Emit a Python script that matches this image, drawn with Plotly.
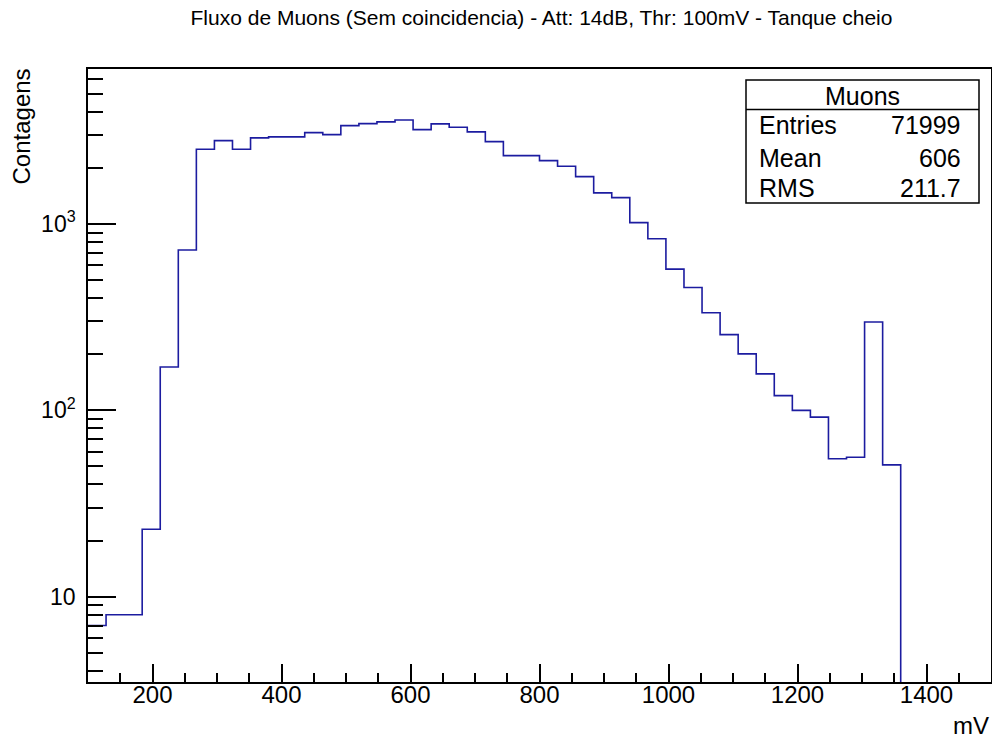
import numpy as np
import plotly.graph_objects as go

# ---- data -------------------------------------------------------------
x_min, x_max, n_bins = 100, 1500, 50
counts = [7, 8, 8, 23, 171, 726, 2521, 2803, 2521, 2899,
          2935, 2935, 3095, 3020, 3375, 3459, 3532, 3615, 3212, 3446,
          3308, 3122, 2769, 2329, 2329, 2189, 2043, 1797, 1469, 1386,
          1017, 834, 573, 456, 334, 255, 201, 157, 120, 100,
          92, 55, 56, 298, 51, 0, 0, 0, 0, 0]
y_tickvals = [10, 100, 1000]
y_ticktext = ["10", "10<sup>2</sup>", "10<sup>3</sup>"]
stats_name = "Muons"
stats_labels = ["Entries", "Mean", "RMS"]
stats_values = ["71999", "606", "211.7"]
title = "Fluxo de Muons (Sem coincidencia) - Att: 14dB, Thr: 100mV - Tanque cheio"

# ---- layout geometry --------------------------------------------------
W, H = 992, 738
ML, MR, MT, MB = 88, 1, 69, 56
PW, PH = W - ML - MR, H - MT - MB


def px(xp):
    return (xp - ML) / PW


def py(yp):
    return (H - MB - yp) / PH


edges = np.linspace(x_min, x_max, n_bins + 1)
yvals = [c if c > 0 else 1e-3 for c in counts]
ystep = yvals + [yvals[-1]]

FONT = "Liberation Sans, Arial, sans-serif"

fig = go.Figure()
fig.add_trace(go.Scatter(
    x=edges, y=ystep, mode="lines", line_shape="hv",
    line=dict(color="#1c1ca0", width=1.6), showlegend=False,
    hoverinfo="skip"))

minor_y = [m * 10 ** e for e in range(0, 4) for m in range(2, 10)]

fig.update_layout(
    width=W, height=H,
    margin=dict(l=ML, r=MR, t=MT, b=MB, autoexpand=False),
    paper_bgcolor="white", plot_bgcolor="white",
    font=dict(family=FONT, color="black"),
    title=dict(text=title, xref="container", x=541.5 / W, xanchor="center",
               yref="container", y=1 - 17.5 / H, yanchor="middle",
               font=dict(size=21, family=FONT)),
    xaxis=dict(range=[x_min, x_max], showgrid=False, zeroline=False,
               automargin=False,
               showline=True, linecolor="black", linewidth=1.5, mirror=True,
               ticks="inside", ticklen=18, tickwidth=1.5, tickcolor="black",
               tick0=0, dtick=200, tickfont=dict(size=24, family=FONT),
               ticklabelstandoff=-10,
               minor=dict(ticks="inside", ticklen=9, tickwidth=1.5,
                          tickcolor="black", dtick=50, tick0=0, showgrid=False)),
    yaxis=dict(type="log", range=[0.542, 3.832], showgrid=False,
               zeroline=False, showline=True, linecolor="black",
               automargin=False,
               linewidth=1.5, mirror=True,
               ticks="inside", ticklen=28, tickwidth=1.5, tickcolor="black",
               tickmode="array", tickvals=y_tickvals, ticktext=y_ticktext,
               tickfont=dict(size=23, family=FONT), ticklabelstandoff=6,
               minor=dict(ticks="inside", ticklen=15, tickwidth=1.5,
                          tickcolor="black", tickmode="array",
                          tickvals=minor_y, showgrid=False)),
)

# axis titles
fig.add_annotation(text="Contagens", textangle=-90, xref="paper", yref="paper",
                   x=px(37), y=py(67), xanchor="right", yanchor="top",
                   showarrow=False, font=dict(size=24, family=FONT))
fig.add_annotation(text="mV", xref="paper", yref="paper",
                   x=px(991), y=py(725), xanchor="right", yanchor="middle",
                   showarrow=False, font=dict(size=24, family=FONT))

# stats box
bx0, bx1, by0, by1, bsep = 746, 979, 80, 203, 109.5
fig.add_shape(type="rect", xref="paper", yref="paper",
              x0=px(bx0), x1=px(bx1), y0=py(by1), y1=py(by0),
              line=dict(color="black", width=1.5), fillcolor="white")
fig.add_shape(type="line", xref="paper", yref="paper",
              x0=px(bx0), x1=px(bx1), y0=py(bsep), y1=py(bsep),
              line=dict(color="black", width=1.5))
fig.add_annotation(text=stats_name, xref="paper", yref="paper",
                   x=px((bx0 + bx1) / 2), y=py(96.5), xanchor="center",
                   yanchor="middle", showarrow=False,
                   font=dict(size=25, family=FONT))
row_y = [125, 157.5, 188]
for lab, val, ry in zip(stats_labels, stats_values, row_y):
    fig.add_annotation(text=lab, xref="paper", yref="paper", x=px(757),
                       y=py(ry), xanchor="left", yanchor="middle",
                       showarrow=False, font=dict(size=25, family=FONT))
    fig.add_annotation(text=val, xref="paper", yref="paper", x=px(963),
                       y=py(ry), xanchor="right", yanchor="middle",
                       showarrow=False, font=dict(size=25, family=FONT))

fig.write_html(
    "out.html",
    config={"displayModeBar": False},
    post_script="document.body.style.margin='0';"
                "document.body.style.overflow='hidden';")
